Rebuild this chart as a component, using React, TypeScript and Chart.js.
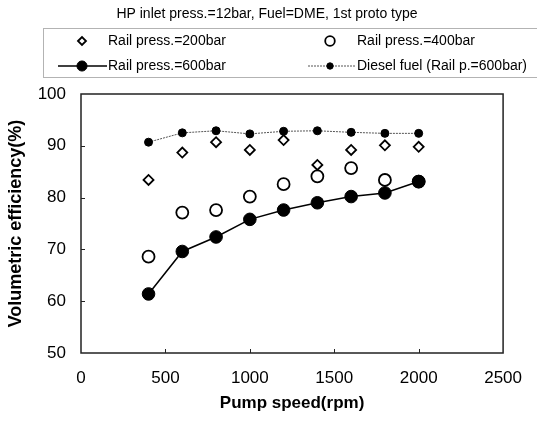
import React, { useEffect, useRef } from 'react';
import { Chart, registerables } from 'chart.js';

Chart.register(...registerables);

// ---- data ----
const chartTitle = 'HP inlet press.=12bar, Fuel=DME, 1st proto type';
const speeds = [400, 600, 800, 1000, 1200, 1400, 1600, 1800, 2000];
const rail200 = [83.4, 88.7, 90.7, 89.2, 91.1, 86.3, 89.2, 90.1, 89.8];
const rail400 = [68.6, 77.1, 77.6, 80.2, 82.6, 84.1, 85.7, 83.4, 83.1];
const rail600 = [61.4, 69.6, 72.4, 75.8, 77.6, 79.0, 80.2, 80.9, 83.1];
const diesel = [90.7, 92.5, 92.9, 92.3, 92.8, 92.9, 92.6, 92.4, 92.4];
const seriesLabels = [
  'Rail press.=200bar',
  'Rail press.=400bar',
  'Rail press.=600bar',
  'Diesel fuel (Rail p.=600bar)',
];
const xTitle = 'Pump speed(rpm)';
const yTitle = 'Volumetric efficiency(%)';
const xMin = 0, xMax = 2500, xStep = 500;
const yMin = 50, yMax = 100, yStep = 10;

const FONT = '"Liberation Sans", Arial, Helvetica, sans-serif';

const toPts = (ys: number[]) => speeds.map((x, i) => ({ x, y: ys[i] }));

// legend slots (layout only)
const legendSlots = [
  { mx: 82, tx: 108, y: 41, l0: 0, l1: 0 },
  { mx: 330, tx: 357, y: 41, l0: 0, l1: 0 },
  { mx: 82, tx: 108, y: 66, l0: 58, l1: 107 },
  { mx: 330, tx: 357, y: 66, l0: 308, l1: 355 },
];
const legendMarkerScale = 0.8;

function drawMarker(ctx: CanvasRenderingContext2D, ds: any, x: number, y: number, scale: number) {
  const r = ds.pointRadius * scale;
  ctx.save();
  ctx.setLineDash([]);
  ctx.beginPath();
  if (ds.pointStyle === 'rectRot') {
    ctx.moveTo(x - r, y);
    ctx.lineTo(x, y - r);
    ctx.lineTo(x + r, y);
    ctx.lineTo(x, y + r);
    ctx.closePath();
  } else {
    ctx.arc(x, y, r, 0, Math.PI * 2);
  }
  ctx.fillStyle = ds.pointBackgroundColor;
  ctx.fill();
  ctx.lineWidth = ds.pointBorderWidth;
  ctx.strokeStyle = ds.pointBorderColor;
  ctx.stroke();
  ctx.restore();
}

const decorPlugin = {
  id: 'decor',
  afterDraw(chart: any) {
    const ctx: CanvasRenderingContext2D = chart.ctx;
    const a = chart.chartArea;
    const xs = chart.scales.x;
    const ys = chart.scales.y;
    ctx.save();
    // plot frame
    ctx.strokeStyle = '#222';
    ctx.lineWidth = 1.5;
    ctx.strokeRect(a.left, a.top, a.right - a.left, a.bottom - a.top);
    // inward tick marks
    ctx.lineWidth = 1;
    ctx.beginPath();
    xs.ticks.forEach((t: any) => {
      if (t.value <= xs.min || t.value >= xs.max) return;
      const px = Math.round(xs.getPixelForValue(t.value)) + 0.5;
      ctx.moveTo(px, a.bottom);
      ctx.lineTo(px, a.bottom - 4);
    });
    ys.ticks.forEach((t: any) => {
      if (t.value <= ys.min || t.value >= ys.max) return;
      const py = Math.round(ys.getPixelForValue(t.value)) + 0.5;
      ctx.moveTo(a.left, py);
      ctx.lineTo(a.left + 4, py);
    });
    ctx.stroke();

    // title
    ctx.fillStyle = '#000';
    ctx.font = `14px ${FONT}`;
    ctx.textAlign = 'center';
    ctx.textBaseline = 'middle';
    ctx.fillText(chartTitle, 267, 14);

    // legend box
    ctx.strokeStyle = '#666';
    ctx.lineWidth = 1;
    ctx.setLineDash([1, 1]);
    ctx.strokeRect(43.5, 28.5, 520, 49);
    ctx.setLineDash([]);

    chart.data.datasets.forEach((ds: any, i: number) => {
      const s = legendSlots[i];
      if (ds.showLine) {
        ctx.save();
        ctx.strokeStyle = ds.borderColor;
        ctx.lineWidth = ds.borderWidth;
        ctx.setLineDash(ds.borderDash || []);
        ctx.beginPath();
        ctx.moveTo(s.l0, s.y);
        ctx.lineTo(s.l1, s.y);
        ctx.stroke();
        ctx.restore();
      }
      drawMarker(ctx, ds, s.mx, s.y, legendMarkerScale);
      ctx.fillStyle = '#000';
      ctx.font = `14px ${FONT}`;
      ctx.textAlign = 'left';
      ctx.textBaseline = 'middle';
      ctx.fillText(ds.label, s.tx, s.y);
    });
    ctx.restore();
  },
};

export default function App() {
  const ref = useRef<HTMLCanvasElement | null>(null);

  useEffect(() => {
    if (!ref.current) return;
    const chart = new Chart(ref.current, {
      type: 'scatter',
      data: {
        datasets: [
          {
            label: seriesLabels[0],
            data: toPts(rail200),
            showLine: false,
            pointStyle: 'rectRot',
            pointRadius: 5,
            pointBackgroundColor: '#fff',
            pointBorderColor: '#000',
            pointBorderWidth: 1.8,
            borderColor: '#000',
            order: 2,
          },
          {
            label: seriesLabels[1],
            data: toPts(rail400),
            showLine: false,
            pointStyle: 'circle',
            pointRadius: 6,
            pointBackgroundColor: '#fff',
            pointBorderColor: '#000',
            pointBorderWidth: 1.8,
            borderColor: '#000',
            order: 2,
          },
          {
            label: seriesLabels[2],
            data: toPts(rail600),
            showLine: true,
            borderColor: '#000',
            borderWidth: 1.5,
            pointStyle: 'circle',
            pointRadius: 6.3,
            pointBackgroundColor: '#000',
            pointBorderColor: '#000',
            pointBorderWidth: 1,
            order: 0,
          },
          {
            label: seriesLabels[3],
            data: toPts(diesel),
            showLine: true,
            borderColor: '#555',
            borderWidth: 1,
            borderDash: [2, 1],
            pointStyle: 'circle',
            pointRadius: 4,
            pointBackgroundColor: '#000',
            pointBorderColor: '#000',
            pointBorderWidth: 1,
            order: 1,
          },
        ],
      } as any,
      options: {
        responsive: false,
        animation: false,
        layout: { padding: { top: 94, right: 21, left: 0, bottom: 0 } },
        plugins: {
          legend: { display: false },
          title: { display: false },
          tooltip: { enabled: false },
        },
        scales: {
          x: {
            type: 'linear',
            min: xMin,
            max: xMax,
            afterFit: (s: any) => { s.height = 69; },
            grid: { display: false, drawTicks: false },
            border: { display: false },
            ticks: {
              stepSize: xStep,
              color: '#000',
              padding: 15,
              font: { family: FONT, size: 17 },
              callback: (v: any) => String(v),
            },
            title: {
              display: true,
              text: xTitle,
              color: '#000',
              font: { family: FONT, size: 17, weight: 'bold' },
              padding: { top: 0, bottom: 8 },
            },
          },
          y: {
            type: 'linear',
            min: yMin,
            max: yMax,
            afterFit: (s: any) => { s.width = 81; },
            grid: { display: false, drawTicks: false },
            border: { display: false },
            ticks: {
              stepSize: yStep,
              color: '#000',
              padding: 15,
              font: { family: FONT, size: 17 },
              callback: (v: any) => String(v),
            },
            title: {
              display: true,
              text: yTitle,
              color: '#000',
              font: { family: FONT, size: 18, weight: 'bold' },
              padding: { top: 5, bottom: 0 },
            },
          },
        },
      } as any,
      plugins: [decorPlugin],
    });
    return () => chart.destroy();
  }, []);

  return (
    <div style={{ position: 'absolute', left: 0, top: 0, width: 537, height: 422, background: '#fff' }}>
      <canvas ref={ref} width={537} height={422} />
    </div>
  );
}
